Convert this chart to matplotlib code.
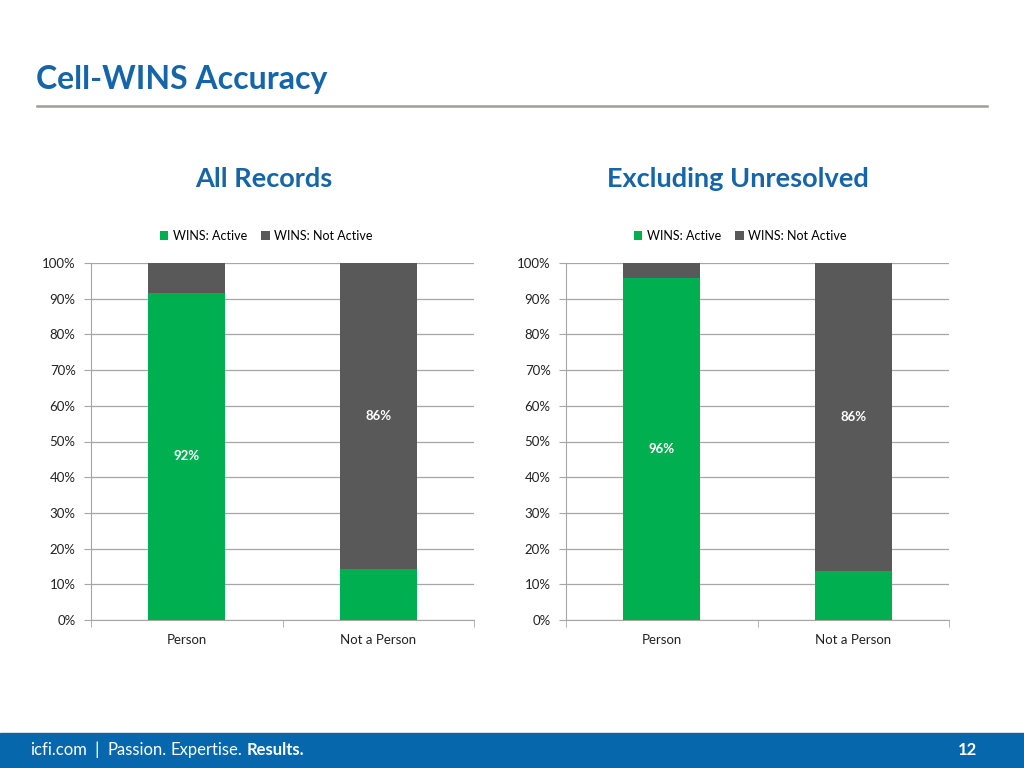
import matplotlib
matplotlib.use("Agg")
import matplotlib.pyplot as plt
from matplotlib.ticker import PercentFormatter

plt.rcParams['font.family'] = ['Lato', 'DejaVu Sans']

categories = ["Person", "Not a Person"]
series_names = ["WINS: Active", "WINS: Not Active"]
chart_titles = ["All Records", "Excluding Unresolved"]
active_all = [91.6, 14.3]
active_excl = [95.8, 13.8]
label_all = ["92%", "86%"]
label_excl = ["96%", "86%"]

GREEN = "#00B050"
GREY = "#595959"
BLUE = "#1565A8"
AXC = "#A6A6A6"

fig = plt.figure(figsize=(10.24, 7.68), dpi=100)

# Title & rule
fig.text(36/1024, 1-80/768, "Cell-WINS Accuracy", fontsize=23, fontweight='bold',
         color=BLUE, va='center', ha='left')
fig.add_artist(plt.Line2D([37/1024, 987/1024], [1-106/768, 1-106/768],
                          color="#9E9E96", lw=1.8, transform=fig.transFigure))

# Footer
fig.add_artist(plt.Rectangle((0, 0), 1, 35/768, color="#0767AD",
                             transform=fig.transFigure, zorder=0))
fy = 1-750/768
renderer = fig.canvas.get_renderer()
pieces = [("icfi.com", 'normal', 12, 0), ("|", 'normal', 13, 8), ("Passion.", 'normal', 12, 8),
          ("Expertise.", 'normal', 12, 4), ("Results.", 'bold', 12, 4)]
xpix = 30
for txt, wt, fs, gap in pieces:
    xpix += gap
    t = fig.text(xpix/1024, fy, txt, fontsize=fs, color='white', fontweight=wt,
                 va='center')
    xpix = t.get_window_extent(renderer).x1
fig.text(977/1024, fy, "12", fontsize=12, color='white', fontweight='bold',
         va='center', ha='right')

panels = [
    (91, 474, active_all, label_all, chart_titles[0], 264),
    (566, 949, active_excl, label_excl, chart_titles[1], 738),
]

for x0, x1, active, labels, ttl, tcx in panels:
    ax = fig.add_axes([x0/1024, 1-620/768, (x1-x0)/1024, 357/768])
    inactive = [100 - v for v in active]
    xs = range(len(categories))
    ax.bar(xs, active, width=0.4, color=GREEN, label=series_names[0], zorder=3)
    ax.bar(xs, inactive, width=0.4, bottom=active, color=GREY,
           label=series_names[1], zorder=3)
    ax.set_xlim(-0.5, 1.5)
    ax.set_ylim(0, 100)
    ax.set_yticks(range(0, 101, 10))
    ax.yaxis.set_major_formatter(PercentFormatter(decimals=0))
    ax.set_xticks([0, 1])
    ax.set_xticklabels(categories)
    ax.set_xticks([-0.5, 0.5, 1.5], minor=True)
    ax.tick_params(axis='x', which='major', length=0, pad=10, labelsize=9.5,
                   colors='#222222')
    ax.tick_params(axis='x', which='minor', length=5, color=AXC, direction='out')
    ax.tick_params(axis='y', length=5, colors=AXC, labelcolor='#222222',
                   labelsize=9.5, pad=6)
    ax.grid(axis='y', color=AXC, lw=0.9, zorder=0)
    for s in ['top', 'right']:
        ax.spines[s].set_visible(False)
    ax.spines['left'].set_color(AXC)
    ax.spines['bottom'].set_color(AXC)
    # data labels
    ax.text(0, active[0]/2, labels[0], ha='center', va='center', color='white',
            fontsize=9.5, fontweight='bold', zorder=4)
    ax.text(1, active[1] + inactive[1]/2, labels[1], ha='center', va='center',
            color='white', fontsize=9.5, fontweight='bold', zorder=4)
    lcx = (tcx + 2 - x0) / (x1 - x0)
    ax.legend(loc='lower center', bbox_to_anchor=(lcx, 1.027), ncol=2,
              frameon=False, fontsize=9, handlelength=0.7, handleheight=0.7,
              handletextpad=0.35, columnspacing=1.1)
    fig.text(tcx/1024, 1-179/768, ttl, fontsize=19.5, fontweight='bold',
             color=BLUE, ha='center', va='center')

fig.savefig("out.png", dpi=100)
